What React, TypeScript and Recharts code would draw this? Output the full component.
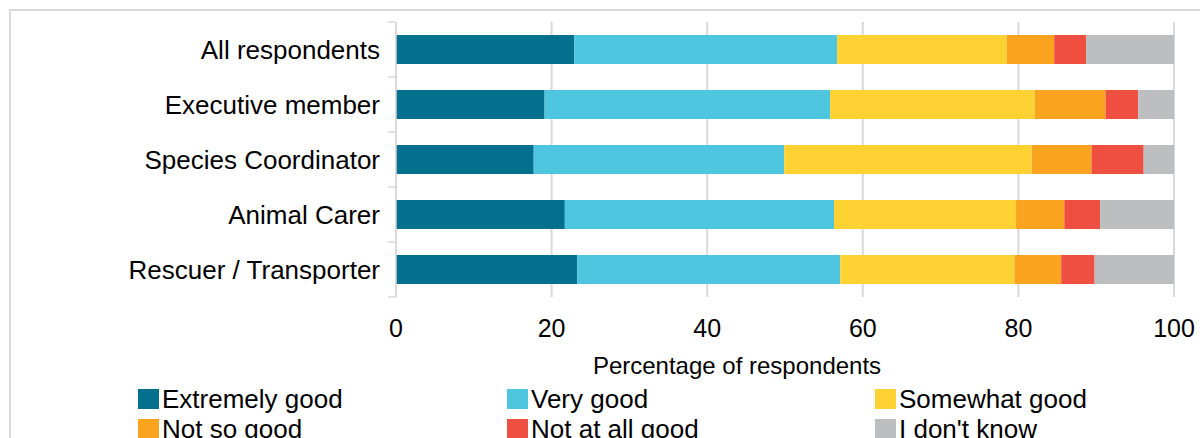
import { BarChart, Bar, XAxis, YAxis, CartesianGrid, Legend, Label } from "recharts";

const FONT = '"Liberation Sans", Arial, sans-serif';
const GRID = "#D9D9D9";

// Respondent groups, top to bottom
const categories = [
  "All respondents",
  "Executive member",
  "Species Coordinator",
  "Animal Carer",
  "Rescuer / Transporter",
];

// Share of respondents (%) per rating
const extremelyGood = [22.9, 19.1, 17.7, 21.7, 23.3];
const veryGood = [33.8, 36.7, 32.2, 34.6, 33.8];
const somewhatGood = [21.8, 26.3, 31.8, 23.4, 22.4];
const notSoGood = [6.1, 9.1, 7.7, 6.2, 6.0];
const notAtAllGood = [4.1, 4.2, 6.7, 4.6, 4.3];
const dontKnow = [11.3, 4.6, 3.9, 9.5, 10.2];

const xTicks = [0, 20, 40, 60, 80, 100];

const series = [
  { key: "eg", name: "Extremely good", color: "#03708E", values: extremelyGood },
  { key: "vg", name: "Very good", color: "#4FC6DF", values: veryGood },
  { key: "sg", name: "Somewhat good", color: "#FDD232", values: somewhatGood },
  { key: "nsg", name: "Not so good", color: "#F9A31E", values: notSoGood },
  { key: "naag", name: "Not at all good", color: "#EF4F40", values: notAtAllGood },
  { key: "idk", name: "I don't know", color: "#BDBEC0", values: dontKnow },
];

const data = categories.map((name, i) => {
  const row: Record<string, string | number> = { name };
  series.forEach((s) => {
    row[s.key] = s.values[i];
  });
  return row;
});

// category label plus tick marks on the band edges
function CategoryTick(props: any) {
  const { x, y, payload, index, visibleTicksCount } = props;
  const half = payload.offset ?? 0;
  const x1 = x + 8;
  const x2 = x + 16;
  return (
    <g>
      <line x1={x1} x2={x2} y1={y - half} y2={y - half} stroke={GRID} strokeWidth={1.5} />
      {index === visibleTicksCount - 1 && (
        <line x1={x1} x2={x2} y1={y + half} y2={y + half} stroke={GRID} strokeWidth={1.5} />
      )}
      <text x={x} y={y} dy="0.355em" textAnchor="end" fontSize={26} fill="#000" fontFamily={FONT}>
        {payload.value}
      </text>
    </g>
  );
}

function ValueTick(props: any) {
  const { x, y, payload } = props;
  return (
    <text x={x} y={y} dy="0.71em" textAnchor="middle" fontSize={25} fill="#000" fontFamily={FONT}>
      {payload.value}
    </text>
  );
}

function AxisTitle(props: any) {
  const { viewBox } = props;
  const cx = viewBox.x + viewBox.width / 2 - 48;
  return (
    <text x={cx} y={viewBox.y + 77} textAnchor="middle" fontSize={24} fill="#000" fontFamily={FONT}>
      Percentage of respondents
    </text>
  );
}

function LegendGrid() {
  return (
    <div
      style={{
        display: "grid",
        gridTemplateColumns: "369px 368px 300px",
        rowGap: 0,
        fontFamily: FONT,
        fontSize: 26,
        lineHeight: "30px",
        color: "#000",
      }}
    >
      {series.map((s) => (
        <div key={s.key} style={{ display: "flex", alignItems: "center", whiteSpace: "nowrap" }}>
          <span style={{ width: 21, height: 20, background: s.color, marginRight: 3, flex: "none" }} />
          <span>{s.name}</span>
        </div>
      ))}
    </div>
  );
}

export default function App() {
  return (
    <div
      style={{
        position: "absolute",
        left: 0,
        top: 0,
        width: 1200,
        height: 438,
        overflow: "hidden",
        background: "#fff",
      }}
    >
      <div
        style={{
          position: "absolute",
          left: 9,
          top: 9,
          width: 1300,
          height: 600,
          borderLeft: `2px solid ${GRID}`,
          borderTop: `2px solid ${GRID}`,
        }}
      />
      <BarChart
        width={1200}
        height={438}
        data={data}
        layout="vertical"
        margin={{ top: 22, right: 26, bottom: 0, left: 0 }}
        barSize={29}
      >
        <CartesianGrid horizontal={false} stroke={GRID} strokeWidth={2} />
        <XAxis
          type="number"
          domain={[0, 100]}
          ticks={xTicks}
          axisLine={false}
          tickLine={false}
          tickSize={0}
          tickMargin={22}
          height={141}
          tick={<ValueTick />}
          interval={0}
        >
          <Label content={<AxisTitle />} />
        </XAxis>
        <YAxis
          type="category"
          dataKey="name"
          width={396}
          axisLine={{ stroke: GRID, strokeWidth: 1.5 }}
          tickLine={false}
          tickSize={8}
          tickMargin={8}
          tick={<CategoryTick />}
          interval={0}
        />
        <Legend
          layout="horizontal"
          verticalAlign="middle"
          align="center"
          wrapperStyle={{ left: 138, top: 384, width: 1060 }}
          content={<LegendGrid />}
        />
        {series.map((s) => (
          <Bar key={s.key} dataKey={s.key} name={s.name} stackId="a" fill={s.color} isAnimationActive={false} />
        ))}
      </BarChart>
    </div>
  );
}
